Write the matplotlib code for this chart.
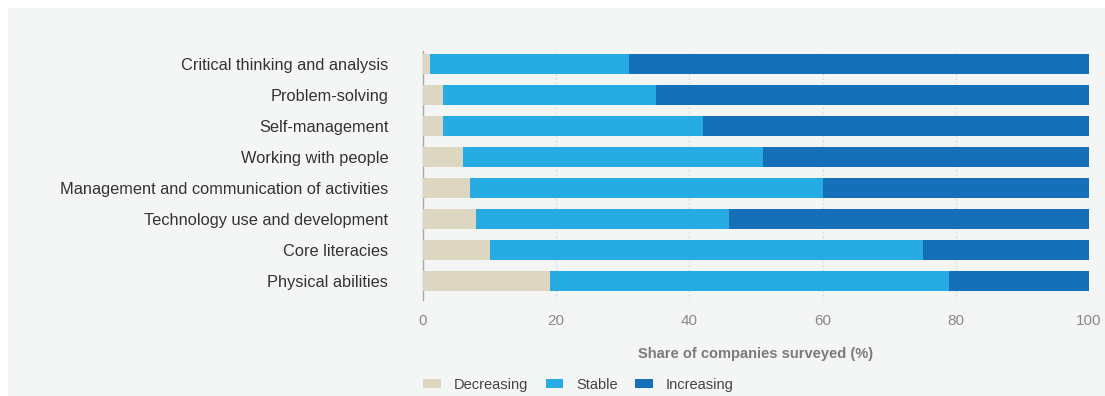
import matplotlib.pyplot as plt
from matplotlib.patches import Rectangle, Patch

skills = ['Critical thinking and analysis', 'Problem-solving', 'Self-management',
          'Working with people', 'Management and communication of activities',
          'Technology use and development', 'Core literacies', 'Physical abilities']
decreasing = [1, 3, 3, 6, 7, 8, 10, 19]
stable = [30, 32, 39, 45, 53, 38, 65, 60]
increasing = [69, 65, 58, 49, 40, 54, 25, 21]

c_dec = '#ddd6c0'
c_stab = '#26abe2'
c_inc = '#1570b9'
panel = '#f4f5f5'

plt.rcParams['font.family'] = ['Liberation Sans', 'DejaVu Sans']

fig = plt.figure(figsize=(11.05, 3.96), dpi=100)
fig.patch.set_facecolor('white')
fig.patches.append(Rectangle((8 / 1105, 0), 1, 1 - 8 / 396, transform=fig.transFigure,
                             facecolor=panel, edgecolor='none', zorder=-10))

ax = fig.add_axes([423 / 1105, 1 - 300 / 396, 666 / 1105, 249 / 396])
ax.set_facecolor('none')

y = list(range(len(skills)))
left2 = [d + s for d, s in zip(decreasing, stable)]
h = 0.63
ax.barh(y, decreasing, height=h, color=c_dec, zorder=3)
ax.barh(y, stable, left=decreasing, height=h, color=c_stab, zorder=3)
ax.barh(y, increasing, left=left2, height=h, color=c_inc, zorder=3)

ax.set_xlim(0, 100)
ax.set_ylim(7.61, -0.42)
ax.set_xticks([0, 20, 40, 60, 80, 100])
ax.set_yticks(y)
ax.set_yticklabels(skills, fontsize=11.8, color='#333333')
ax.tick_params(axis='y', length=0, pad=25)
ax.tick_params(axis='x', length=0, pad=10, labelsize=11, labelcolor='#8a8a8a')

for x in [20, 40, 60, 80, 100]:
    ax.axvline(x, color='#d4d6d6', linestyle=(0, (1, 2)), linewidth=1, zorder=1)

for s in ['top', 'right', 'bottom']:
    ax.spines[s].set_visible(False)
ax.spines['left'].set_color('#a8a8a8')
ax.spines['left'].set_linewidth(1)

ax.set_xlabel('Share of companies surveyed (%)', fontsize=10.5, fontweight='bold',
              color='#7a7a7a', labelpad=14)

handles = [Patch(facecolor=c_dec, label='Decreasing'),
           Patch(facecolor=c_stab, label='Stable'),
           Patch(facecolor=c_inc, label='Increasing')]
leg = fig.legend(handles=handles, loc='center left', bbox_to_anchor=(410 / 1105, 1 - 385 / 396),
                 ncol=3, frameon=False, fontsize=10.5, handlelength=1.2, handleheight=0.55,
                 handletextpad=0.9, columnspacing=1.2)
for t in leg.get_texts():
    t.set_color('#444444')

fig.savefig('out.png', dpi=100, facecolor=fig.get_facecolor())
